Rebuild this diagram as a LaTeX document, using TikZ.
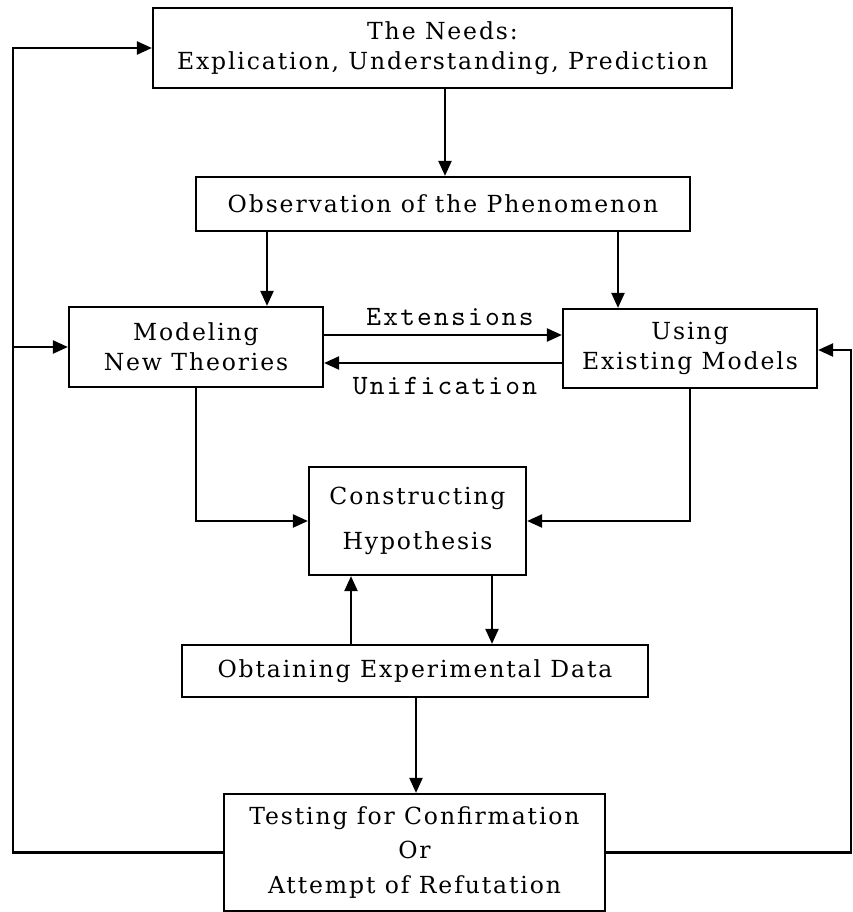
\documentclass[tikz,border=0pt]{standalone}
\usepackage{fontspec}
\newfontfamily\boxfont[LetterSpace=8]{DejaVu Serif}
\newfontfamily\lblfont[Extension=.otf,LetterSpace=8]{lmmono10-regular}
\usetikzlibrary{arrows.meta}
\begin{document}
\begin{tikzpicture}[x=1pt,y=-1pt,
  box/.style={draw,line width=2.2pt,inner sep=0pt,align=center,
    font={\boxfont\fontsize{23.5}{30}\selectfont}},
  arr/.style={-{Triangle[length=15pt,width=13pt]}},
  conn/.style={line width=2.2pt},
  lbl/.style={font={\lblfont\fontsize{28}{30}\selectfont},inner sep=0pt}]
\useasboundingbox (0,0) rectangle (852,912);
\node[box,minimum width=579pt,minimum height=80pt] (needs) at (442.5,48) {The Needs:\\Explication, Understanding, Prediction};
\node[box,minimum width=494pt,minimum height=54pt] (obs) at (443,204) {Observation of the Phenomenon};
\node[box,minimum width=254pt,minimum height=80pt] (model) at (196,347) {Modeling\\New Theories};
\node[box,minimum width=254pt,minimum height=79pt] (using) at (690,348.5) {Using\\Existing Models};
\node[box,minimum width=217pt,minimum height=108pt,font={\boxfont\fontsize{23.5}{45}\selectfont}] (cons) at (417.5,521) {Constructing\\Hypothesis};
\node[box,minimum width=466pt,minimum height=52pt] (obt) at (415,671) {Obtaining Experimental Data};
\node[box,minimum width=381pt,minimum height=117pt,font={\boxfont\fontsize{23.5}{34.5}\selectfont}] (test) at (414.5,852.5) {Testing for Confirmation\\Or\\Attempt of Refutation};
\node[lbl] (ext) at (450,317) {Extensions};
\node[lbl] (uni) at (445,386) {Unification};
\coordinate (lx) at (13,0);
\coordinate (rx) at (850.9,0);
\draw[conn,arr] (test.west) -- (lx |- test.west) -- (lx |- needs.west) -- (needs.west);
\draw[conn,arr] (lx |- model.west) -- (model.west);
\draw[conn,arr] (445,0 |- needs.south) -- (445,0 |- obs.north);
\draw[conn,arr] (267,0 |- obs.south) -- (267,0 |- model.north);
\draw[conn,arr] (618,0 |- obs.south) -- (618,0 |- using.north);
\draw[conn,arr] (model.east |- 0,335) -- (using.west |- 0,335);
\draw[conn,arr] (using.west |- 0,363) -- (model.east |- 0,363);
\draw[conn,arr] (model.south) -- (model.south |- cons.west) -- (cons.west);
\draw[conn,arr] (using.south) -- (using.south |- cons.east) -- (cons.east);
\draw[conn,arr] (351,0 |- obt.north) -- (351,0 |- cons.south);
\draw[conn,arr] (492,0 |- cons.south) -- (492,0 |- obt.north);
\draw[conn,arr] (416,0 |- obt.south) -- (416,0 |- test.north);
\draw[conn,arr] (test.east) -- (rx |- test.east) -- (rx |- 0,350) -- (using.east |- 0,350);
\end{tikzpicture}
\end{document}
